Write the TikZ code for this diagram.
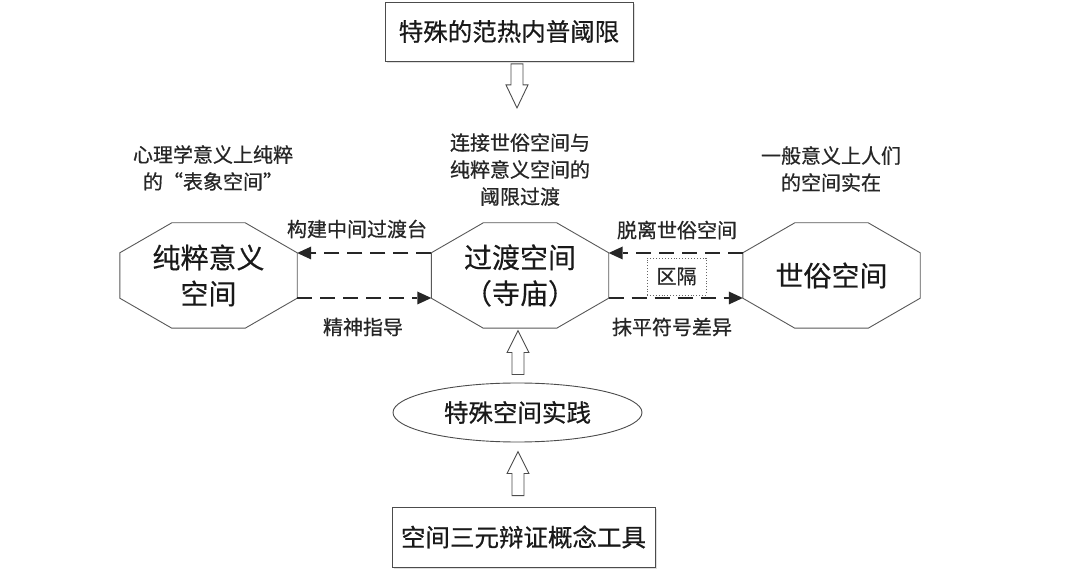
\documentclass[tikz,border=0pt]{standalone}
\usepackage{fontspec}
\setmainfont{Noto Sans CJK SC}
\newfontfamily\cjkb[FakeBold=0.6]{Noto Sans CJK SC}
\newfontfamily\cjkm[FakeBold=0.3]{Noto Sans CJK SC}
\usetikzlibrary{shapes.geometric,arrows.meta,shadows,calc}
\newcommand{\octoline}[1]{%
  \draw[octline] ([xshift=52pt]#1.north west) -- ([xshift=-52pt]#1.north east)
    -- ([yshift=-30pt]#1.north east) -- ([yshift=30pt]#1.south east)
    -- ([xshift=-52pt]#1.south east) -- ([xshift=52pt]#1.south west)
    -- ([yshift=30pt]#1.south west) -- ([yshift=-30pt]#1.north west) -- cycle;}
\begin{document}
\begin{tikzpicture}[x=1pt,y=-1pt,
  oct/.style={rectangle, minimum width=177pt, minimum height=105pt,
    inner sep=0pt, align=center, text=black!90, font=\cjkm\fontsize{28}{36}\selectfont},
  octline/.style={draw=black!65, line width=0.9pt, line join=miter},
  boxnode/.style={rectangle, draw=black!70, line width=0.9pt, fill=white, inner sep=0pt,
    text=black!90, font=\cjkb\fontsize{24.5}{30}\selectfont,
    drop shadow={opacity=0.25, shadow xshift=1.5pt, shadow yshift=-2pt}},
  ellnode/.style={ellipse, draw=black!70, line width=0.9pt, fill=white, inner sep=0pt,
    minimum width=249pt, minimum height=59pt, text=black!90, font=\cjkb\fontsize{24.5}{30}\selectfont},
  annot/.style={align=center, text=black!85, font=\cjkb\fontsize{20}{27}\selectfont, inner sep=0pt},
  lbl/.style={text=black!85, font=\cjkb\fontsize{20}{24}\selectfont, inner sep=0pt},
  dasharrow/.style={draw=black!85, line width=2.2pt, dash pattern=on 15pt off 8pt,
    -{Triangle[length=14pt,width=13pt,line width=0pt]}},
  blk/.style={draw=black!70, line width=0.9pt, fill=white, line join=miter},
  blockup/.pic={\draw[blk] (-6,0) -- (-6,-22) -- (-11,-22) -- (0,-44) -- (11,-22) -- (6,-22) -- (6,0) -- cycle;},
  blockdown/.pic={\draw[blk] (-6,0) -- (-6,21) -- (-11,21) -- (0,44) -- (11,21) -- (6,21) -- (6,0) -- cycle;},
]
\useasboundingbox[fill=white] (0,0) rectangle (1080,577);

% main nodes
\node[boxnode, minimum width=248pt, minimum height=59pt] (top) at (509,31.5) {特殊的范热内普阈限};
\node[oct] (L) at (208.5,275.5) {纯粹意义\\空间};
\node[oct] (C) at (520,275.5) {过渡空间\\（寺庙）};
\node[oct] (R) at (831.5,275.5) {世俗空间};
\octoline{L}
\octoline{C}
\octoline{R}
\node[ellnode] (E) at (517.5,412.5) {特殊空间实践};
\node[boxnode, minimum width=263pt, minimum height=60pt] (B) at (523.5,537) {空间三元辩证概念工具};

% annotations
\node[annot] (aL) at (213,168) {心理学意义上纯粹\\的“表象空间”};
\node[annot] (aC) at (520,169.5) {连接世俗空间与\\纯粹意义空间的\\阈限过渡};
\node[annot] (aR) at (831,169) {一般意义上人们\\的空间实在};

% separator box
\node[draw=black!60, dotted, line width=0.9pt, minimum width=59pt, minimum height=37pt,
      inner sep=0pt, text=black!85, font=\cjkb\fontsize{20}{24}\selectfont] (S) at (676.5,276.5) {区隔};

% dashed connectors
\draw[dasharrow] ([yshift=22.5pt]C.west) -- ([yshift=22.5pt]L.east);
\draw[dasharrow] ([yshift=-22.5pt]L.east) -- ([yshift=-22.5pt]C.west);
\draw[dasharrow] ([yshift=22.5pt]R.west) -- ([yshift=22.5pt]C.east);
\draw[dasharrow] ([yshift=-22.5pt]C.east) -- ([yshift=-22.5pt]R.west);

% connector labels
\node[lbl] (l1) at (357,229) {构建中间过渡台};
\node[lbl] (l2) at (363,327) {精神指导};
\node[lbl] (l3) at (677,230) {脱离世俗空间};
\node[lbl] (l4) at (672,327) {抹平符号差异};

% block arrows
\path ([xshift=8pt,yshift=-2.5pt]top.south) pic{blockdown};
\path ([xshift=0.5pt,yshift=8pt]E.north) pic{blockup};
\path ([xshift=-5.5pt,yshift=11pt]B.north) pic{blockup};
\end{tikzpicture}
\end{document}
